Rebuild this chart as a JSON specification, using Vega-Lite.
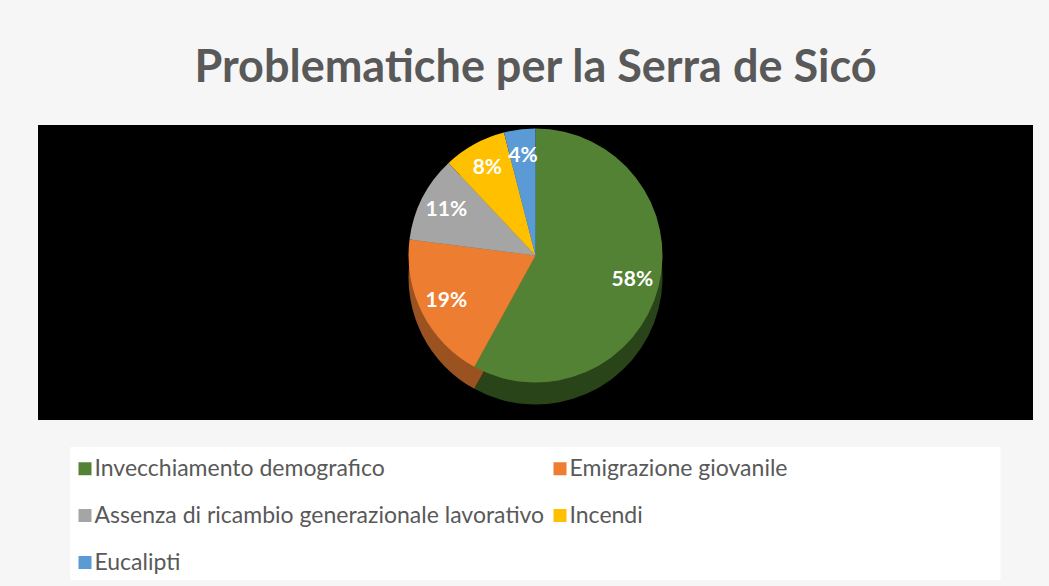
{
  "$schema": "https://vega.github.io/schema/vega-lite/v6.json",
  "background": "#f6f6f6",
  "padding": {"left": 38, "top": 46, "right": 16, "bottom": 6},
  "title": {"text": "Problematiche per la Serra de Sicó", "font": "Lato", "fontSize": 45, "fontWeight": "bold", "color": "#595959", "anchor": "middle", "offset": 34},
  "data": {"values": [
    {"cat": "Invecchiamento demografico", "value": 0.58},
    {"cat": "Emigrazione giovanile", "value": 0.19},
    {"cat": "Assenza di ricambio generazionale lavorativo", "value": 0.11},
    {"cat": "Incendi", "value": 0.08},
    {"cat": "Eucalipti", "value": 0.04}
  ]},
  "spacing": 27,
  "center": true,
  "resolve": {"legend": {"color": "independent"}},
  "vconcat": [
    {
      "width": 995,
      "height": 295,
      "view": {"fill": "black", "stroke": null},
      "layer": [
        {
          "mark": {"type": "arc", "radius": 127, "yOffset": 5},
          "encoding": {
            "theta": {"field": "value", "type": "quantitative", "stack": true},
            "order": {"field": "value", "sort": "descending"},
            "fill": {"field": "cat", "type": "nominal", "legend": null,
              "scale": {"domain": ["Invecchiamento demografico", "Emigrazione giovanile", "Assenza di ricambio generazionale lavorativo", "Incendi", "Eucalipti"],
                        "range": ["#2a4419", "#9a5220", "#5e5e5e", "#8f6c00", "#335a7c"]}}
          }
        },
        {
          "mark": {"type": "arc", "radius": 127, "yOffset": -17},
          "encoding": {
            "theta": {"field": "value", "type": "quantitative", "stack": true},
            "order": {"field": "value", "sort": "descending"},
            "color": {"field": "cat", "type": "nominal", "legend": null,
              "scale": {"domain": ["Invecchiamento demografico", "Emigrazione giovanile", "Assenza di ricambio generazionale lavorativo", "Incendi", "Eucalipti"],
                        "range": ["#548235", "#ED7D31", "#A5A5A5", "#FFC000", "#5B9BD5"]}}
          }
        },
        {
          "mark": {"type": "text", "radius": 100, "yOffset": -17, "font": "Lato", "fontSize": 21, "fontWeight": "bold", "fill": "white"},
          "encoding": {
            "theta": {"field": "value", "type": "quantitative", "stack": true},
            "order": {"field": "value", "sort": "descending"},
            "text": {"field": "value", "type": "quantitative", "format": ".0%"}
          }
        }
      ]
    },
    {
      "width": 930,
      "height": 133,
      "view": {"fill": "white", "stroke": null},
      "mark": {"type": "square", "opacity": 0},
      "encoding": {
        "color": {"field": "cat", "type": "nominal",
          "scale": {"domain": ["Invecchiamento demografico", "Emigrazione giovanile", "Assenza di ricambio generazionale lavorativo", "Incendi", "Eucalipti"],
                    "range": ["#548235", "#ED7D31", "#A5A5A5", "#FFC000", "#5B9BD5"]},
          "legend": {"orient": "none", "legendX": 3, "legendY": 10, "columns": 2, "direction": "horizontal", "title": null,
            "symbolType": "square", "symbolSize": 169, "symbolOpacity": 1, "symbolStrokeWidth": 0,
            "labelFont": "Lato", "labelFontSize": 23, "labelColor": "#595959", "labelLimit": 700,
            "rowPadding": 23, "columnPadding": 4, "labelOffset": -2}
        }
      }
    }
  ]
}
